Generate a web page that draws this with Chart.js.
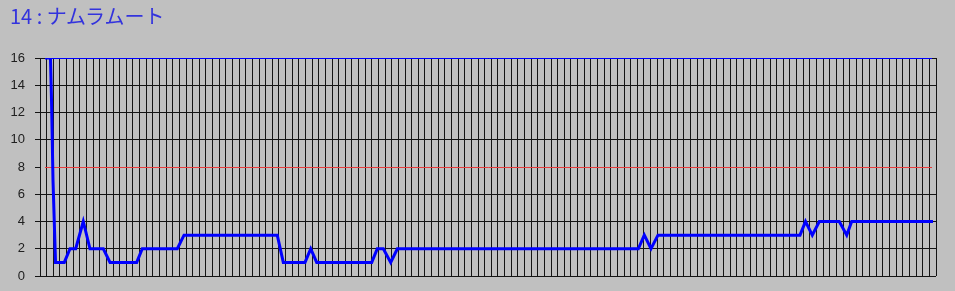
<!DOCTYPE html>
<html lang="ja">
<head>
<meta charset="UTF-8">
<title>14 : ナムラムート</title>
<script src="https://cdn.jsdelivr.net/npm/chart.js"></script>
<style>
  html, body { margin: 0; padding: 0; background: #c0c0c0; }
  .wrap { position: relative; width: 955px; height: 291px; }
  canvas { display: block; }
  .titulo {
    position: absolute; left: 10px; top: 1px;
    font-family: "Noto Sans CJK JP", "Noto Sans", sans-serif;
    font-size: 20px; color: #3333dd; white-space: pre;
  }
</style>
</head>
<body>
<div class="wrap">
  <div class="titulo" id="titulo"></div>
  <canvas id="grafico1" width="955" height="291"></canvas>
</div>
<script>
  const titulo = '14 : ナムラムート'
  // posicao (em divisoes da grade) e valor de cada ponto
  const posicoes = [0.75, 1.58, 1.73, 1.96, 2.34, 3.66, 4.52, 5.38, 6.52, 7.53,
                    9.54, 10.55, 14.57, 15.41, 20.69, 21.70, 35.75, 36.66, 39.93, 40.79,
                    41.69, 49.98, 50.82, 51.73, 52.84, 53.84, 90.15, 91.05, 92.06, 93.11,
                    114.51, 115.34, 116.36, 117.42, 120.43, 121.55, 122.30, 134.55]
  const valores = [16, 16, 13, 7, 1, 1, 2, 2, 4, 2,
                   2, 1, 1, 2, 2, 3, 3, 1, 1, 2,
                   1, 1, 2, 2, 1, 2, 2, 3, 2, 3,
                   3, 4, 3, 4, 4, 3, 4, 4]
  const yTicks = [0, 2, 4, 6, 8, 10, 12, 14, 16]
  const linhaMedia = 8
  const linhaTopo = 16
  const fimLinhas = 134.4
  const divisoes = 135

  document.getElementById('titulo').textContent = titulo

  const ctx = document.getElementById('grafico1')
  const pontos = posicoes.map((x, i) => ({ x: x, y: valores[i] }))

  // linhas de referencia (8 vermelha e 16 azul)
  const linhasRef = {
    id: 'linhasRef',
    beforeDatasetsDraw(chart) {
      const c = chart.ctx
      const sx = chart.scales.x, sy = chart.scales.y
      const x0 = sx.getPixelForValue(posicoes[0])
      const x1 = sx.getPixelForValue(fimLinhas)
      const desenha = (v, cor) => {
        const y = Math.round(sy.getPixelForValue(v)) + 0.5
        c.save()
        c.strokeStyle = cor
        c.lineWidth = 1
        c.beginPath()
        c.moveTo(x0, y)
        c.lineTo(x1, y)
        c.stroke()
        c.restore()
      }
      desenha(linhaMedia, '#e83c3c')
      desenha(linhaTopo, '#0000ff')
    }
  }

  let grafico1 = new Chart(ctx, {
    type: 'line',
    data: {
      datasets: [{
        label: titulo,
        data: pontos,
        borderColor: '#0000ff',
        borderWidth: 3,
        pointRadius: 0,
        tension: 0,
        fill: false
      }]
    },
    plugins: [linhasRef],
    options: {
      responsive: false,
      animation: false,
      layout: { padding: { top: 58, right: 19, bottom: 0, left: 0 } },
      plugins: { legend: { display: false }, tooltip: { enabled: false }, title: { display: false } },
      scales: {
        x: {
          type: 'linear',
          min: 0,
          max: divisoes,
          afterFit: (s) => { s.height = 15 },
          border: { display: false },
          grid: { color: '#141414', lineWidth: 1, drawTicks: false },
          ticks: { display: false, padding: 0, stepSize: 1, maxTicksLimit: 500 }
        },
        y: {
          min: yTicks[0],
          max: yTicks[yTicks.length - 1],
          afterFit: (s) => {
            s.width = 40
            s.paddingTop = 0
            s.paddingBottom = 0
          },
          afterBuildTicks: (s) => { s.ticks = yTicks.map(v => ({ value: v })) },
          border: { display: false },
          grid: {
            color: (c) => (yTicks[c.index] === linhaMedia) ? 'rgba(0,0,0,0)' : '#141414',
            tickColor: '#141414',
            tickLength: 5,
            lineWidth: 1
          },
          ticks: {
            padding: 10,
            color: '#202020',
            font: { family: 'Liberation Sans, Arial, sans-serif', size: 13 }
          }
        }
      }
    }
  })
</script>
</body>
</html>
